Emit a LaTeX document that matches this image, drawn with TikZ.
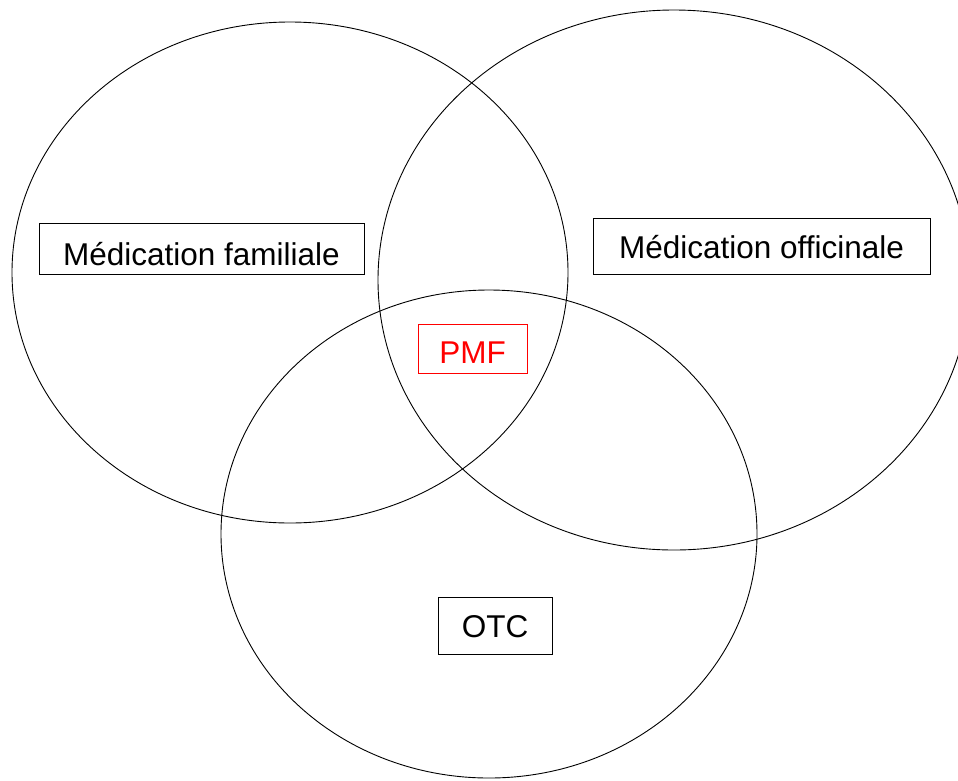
\documentclass[tikz,border=0pt]{standalone}
\usepackage{fontspec}
\setmainfont{Liberation Sans}
\begin{document}
\begin{tikzpicture}[x=1pt,y=-1pt,
  ring/.style={draw=black,line width=0.9pt},
  lbl/.style={draw=black,line width=0.9pt,inner sep=0pt,font=\fontsize{31.5}{36}\selectfont,text depth=0pt}]
\useasboundingbox (0,0) rectangle (958,780);
\clip (0,0) rectangle (958,780);
\draw[ring] (290,272.5) ellipse [x radius=278pt, y radius=250.5pt];
\draw[ring] (674,280) ellipse [x radius=296pt, y radius=270pt];
\draw[ring] (489,534) ellipse [x radius=268pt, y radius=244pt];
\node[lbl,minimum width=325pt,minimum height=51pt,text height=33pt] (fam) at (201.5,248.5) {Médication familiale};
\node[lbl,minimum width=337pt,minimum height=56pt,text height=24pt] (off) at (761.5,246) {Médication officinale};
\node[lbl,draw=red,text=red,minimum width=109pt,minimum height=49pt,text height=29pt] (pmf) at (472.5,348.5) {PMF};
\node[lbl,minimum width=114pt,minimum height=57pt,text height=23pt] (otc) at (495,625.5) {OTC};
\end{tikzpicture}
\end{document}
